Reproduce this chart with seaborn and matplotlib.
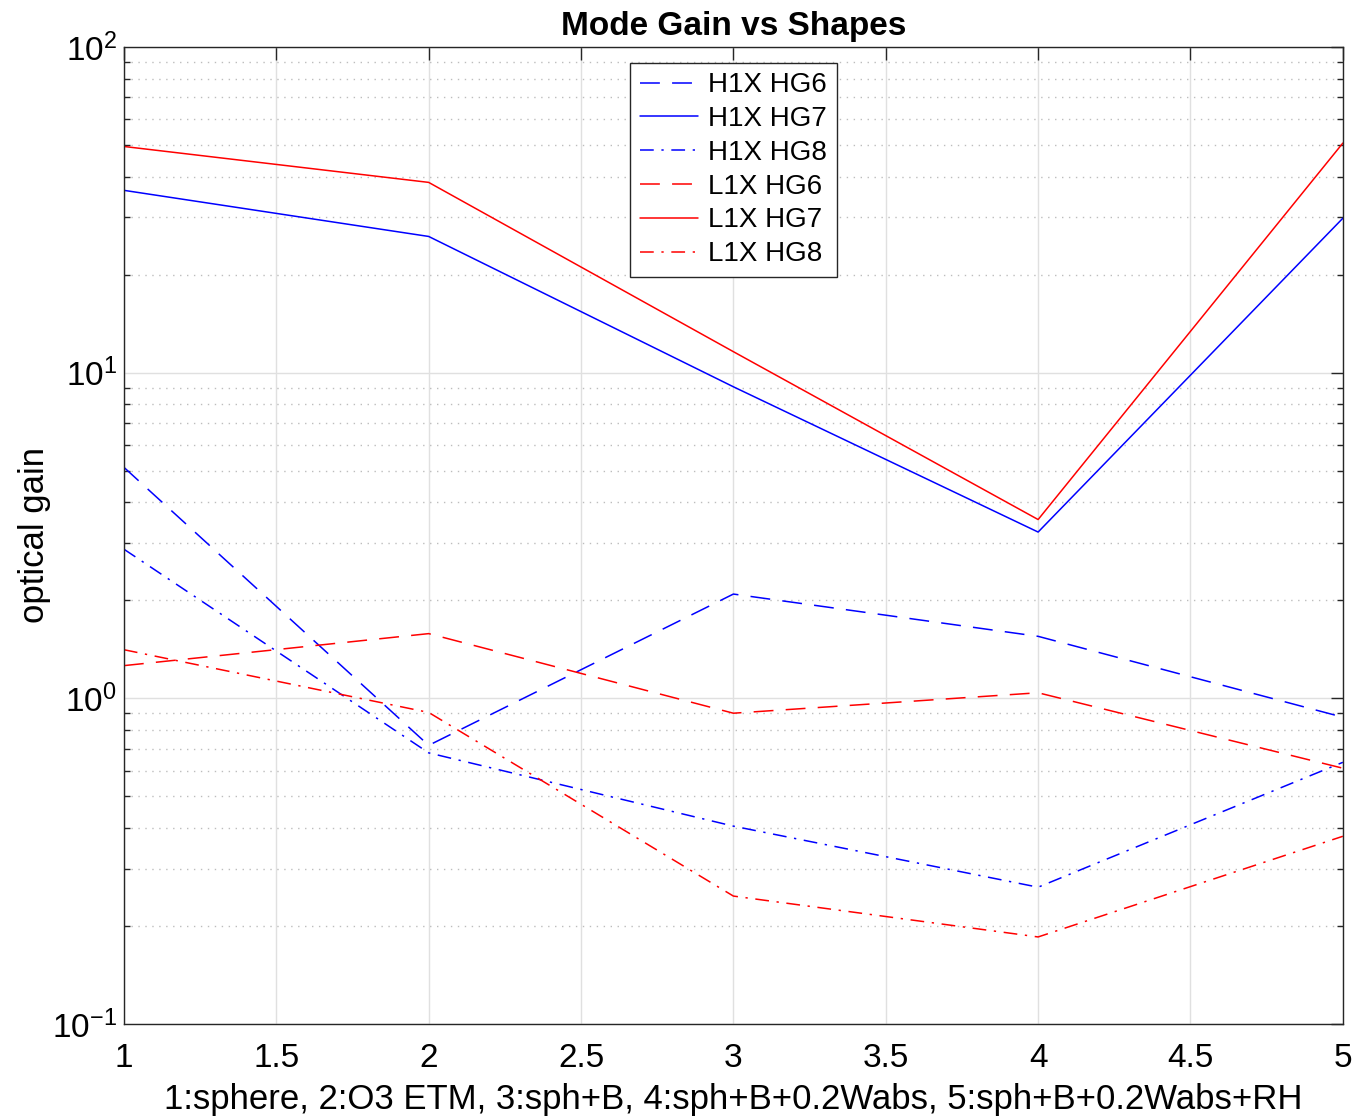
import numpy as np
import pandas as pd
import matplotlib
matplotlib.use("Agg")
import matplotlib.pyplot as plt
import seaborn as sns
from matplotlib.ticker import LogLocator

# -------------------------
# Data
# -------------------------

shapes = [1, 2, 3, 4, 5]

h1x_hg6 = [5.12, 0.717, 2.09, 1.55, 0.875]
h1x_hg7 = [36.3, 26.2, 9.05, 3.24, 29.8]
h1x_hg8 = [2.87, 0.68, 0.405, 0.263, 0.636]
l1x_hg6 = [1.26, 1.58, 0.90, 1.04, 0.61]
l1x_hg7 = [49.5, 38.4, 11.6, 3.54, 50.7]
l1x_hg8 = [1.41, 0.905, 0.247, 0.185, 0.377]

series_names = ["H1X HG6", "H1X HG7", "H1X HG8", "L1X HG6", "L1X HG7", "L1X HG8"]
series_values = [h1x_hg6, h1x_hg7, h1x_hg8, l1x_hg6, l1x_hg7, l1x_hg8]
series_colors = ["#0000ff", "#0000ff", "#0000ff", "#ff0000", "#ff0000", "#ff0000"]

x_tick_labels = ["1", "1.5", "2", "2.5", "3", "3.5", "4", "4.5", "5"]
x_label = "1:sphere, 2:O3 ETM, 3:sph+B, 4:sph+B+0.2Wabs, 5:sph+B+0.2Wabs+RH"
y_label = "optical gain"
title = "Mode Gain vs Shapes"

df = pd.DataFrame({
    "shape": np.tile(shapes, len(series_names)),
    "gain": np.concatenate(series_values),
    "series": np.repeat(series_names, len(shapes)),
})

# MATLAB-like line styles
DASHED = (0, (13, 8))
DASHDOT = (0, (9, 5, 1.5, 5))
series_styles = [DASHED, "-", DASHDOT, DASHED, "-", DASHDOT]

# -------------------------
# Plot
# -------------------------

sns.set_theme(style="white")
plt.rcParams["font.family"] = ["Liberation Sans", "DejaVu Sans"]
plt.rcParams["mathtext.fontset"] = "custom"
plt.rcParams["mathtext.rm"] = "Liberation Sans"
plt.rcParams["axes.unicode_minus"] = False
plt.rcParams["text.color"] = "black"
plt.rcParams["axes.labelcolor"] = "black"
plt.rcParams["xtick.color"] = "black"
plt.rcParams["ytick.color"] = "black"

fig = plt.figure(figsize=(13.56, 11.17), dpi=100)
ax = fig.add_axes([0.0914, 0.0833, 0.8989, 0.8746])

for name, color, ls in zip(series_names, series_colors, series_styles):
    sns.lineplot(
        data=df[df["series"] == name],
        x="shape", y="gain",
        color=color, linestyle=ls, linewidth=1.1,
        label=name, ax=ax, legend=False,
    )

ax.set_yscale("log")
ax.set_xlim(1, 5)
ax.set_ylim(0.1, 100)
ax.set_xticks(np.arange(1, 5.01, 0.5))
ax.set_xticklabels(x_tick_labels)
ax.yaxis.set_major_locator(LogLocator(base=10, numticks=10))
ax.yaxis.set_minor_locator(LogLocator(base=10, subs=np.arange(2, 10), numticks=20))

ax.grid(True, which="major", axis="both", color="#e0e0e0", linestyle="-", linewidth=1.0)
ax.grid(True, which="minor", axis="y", color="#bdbdbd", linestyle=(0, (1, 4)), linewidth=1.0)
ax.set_axisbelow(True)

for spine in ax.spines.values():
    spine.set_color("#262626")
    spine.set_linewidth(1.0)

ax.tick_params(axis="both", which="major", direction="in", length=9, width=1.0,
               color="#262626", labelsize=24, top=True, right=True)
ax.tick_params(axis="x", which="major", pad=14)
ax.tick_params(axis="y", which="major", pad=5)
ax.tick_params(axis="y", which="minor", direction="in", length=4.5, width=1.0,
               color="#262626", right=True, left=True)
ax.tick_params(axis="x", which="minor", bottom=False, top=False)

ax.set_xlabel(x_label, fontsize=25, labelpad=6)
ax.set_ylabel(y_label, fontsize=25)
ax.yaxis.set_label_coords(-0.060, 0.5)
ax.set_title(title, fontsize=24, fontweight="bold", pad=9)

leg = ax.legend(loc="upper center", bbox_to_anchor=(0.5, 0.984), fontsize=20,
                frameon=True, fancybox=False, framealpha=1, edgecolor="#262626",
                handlelength=2.1, handletextpad=0.35, labelspacing=0.28,
                borderpad=0.35, borderaxespad=0)
leg.get_frame().set_linewidth(1.0)

plt.savefig("out.png", dpi=100)
plt.close()
